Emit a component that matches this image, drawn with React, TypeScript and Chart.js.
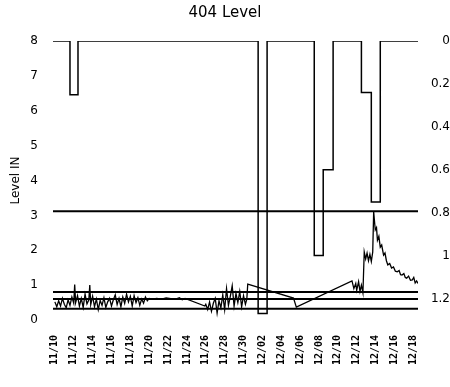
import React, { useEffect, useRef } from "react";
import { Chart, registerables } from "chart.js";

Chart.register(...registerables);

// X axis: days since 11/10
const tickDays = [0, 2, 4, 6, 8, 10, 12, 14, 16, 18, 20, 22, 24, 26, 28, 30, 32, 34, 36, 38];
const tickLabels = [
  "11/10", "11/12", "11/14", "11/16", "11/18", "11/20", "11/22", "11/24", "11/26", "11/28",
  "11/30", "12/02", "12/04", "12/06", "12/08", "12/10", "12/12", "12/14", "12/16", "12/18",
];
const xMin = -0.2;
const xMax = 38.5;

const leftTicks = [0, 1, 2, 3, 4, 5, 6, 7, 8];
const rightTicks = [0, 0.2, 0.4, 0.6, 0.8, 1, 1.2];

// Rainfall (right axis, reversed), step changes
const rainDays = [-0.2, 1.6, 2.45, 21.55, 22.5, 27.5, 28.45, 29.5, 32.5, 33.55, 34.5, 38.5];
const rainValues = [0, 0.25, 0, 1.27, 0, 1.0, 0.6, 0, 0.24, 0.75, 0, 0];

// Level (left axis)
const levelDays = [
  0.0, 0.2, 0.4, 0.6, 0.8, 1.0, 1.2, 1.4, 1.6, 1.8, 2.0, 2.1, 2.2, 2.4, 2.6, 2.8, 3.0, 3.2, 3.4, 3.6,
  3.7, 3.8, 4.0, 4.2, 4.4, 4.6, 4.8, 5.0, 5.2, 5.4, 5.6, 5.8, 6.0, 6.2, 6.4, 6.6, 6.8, 7.0, 7.2, 7.4,
  7.6, 7.8, 8.0, 8.2, 8.4, 8.6, 8.8, 9.0, 9.2, 9.4, 9.6, 9.8, 10.0,
  10.3, 10.8, 11.3, 11.8, 12.3, 12.8, 13.2, 13.5, 13.8, 15.9,
  16.0, 16.2, 16.4, 16.6, 16.8, 17.0, 17.2, 17.4, 17.6, 17.8, 18.0, 18.2, 18.4, 18.6, 18.8, 19.0,
  19.2, 19.4, 19.6, 19.8, 20.0, 20.2, 20.35, 20.45,
  25.3, 25.6, 31.5,
  31.7, 31.9, 32.0, 32.2, 32.35, 32.5, 32.66, 32.8, 32.95, 33.1, 33.25, 33.4, 33.55, 33.7, 33.8,
  33.97, 34.1, 34.2, 34.35, 34.5, 34.65, 34.85, 35.0, 35.15, 35.3, 35.5, 35.7, 35.9, 36.1, 36.3,
  36.5, 36.65, 36.8, 37.0, 37.15, 37.3, 37.5, 37.7, 37.9, 38.05, 38.2, 38.35, 38.5,
];
const levelValues = [
  0.52, 0.38, 0.55, 0.4, 0.62, 0.45, 0.35, 0.58, 0.42, 0.66, 0.48, 1.02, 0.5, 0.7, 0.4, 0.62, 0.36, 0.74, 0.46, 0.58,
  1.0, 0.44, 0.68, 0.38, 0.6, 0.3, 0.56, 0.42, 0.64, 0.36, 0.52, 0.62, 0.4, 0.58, 0.72, 0.44, 0.62, 0.38, 0.66, 0.48,
  0.74, 0.52, 0.68, 0.4, 0.7, 0.5, 0.64, 0.42, 0.6, 0.48, 0.66, 0.55, 0.62,
  0.6, 0.62, 0.6, 0.63, 0.61, 0.6, 0.64, 0.58, 0.62, 0.4,
  0.45, 0.3, 0.52, 0.25, 0.48, 0.62, 0.2, 0.55, 0.35, 0.72, 0.3, 0.9, 0.42, 0.68, 0.98, 0.4,
  0.76, 0.5, 0.82, 0.38, 0.7, 0.45, 0.6, 1.03,
  0.63, 0.37, 1.12,
  0.9, 1.05, 0.85, 1.1, 0.82, 1.0, 0.78, 1.95, 1.75, 1.92, 1.7, 1.88, 1.68, 1.95, 3.1,
  2.58, 2.65, 2.29, 2.4, 2.09, 2.15, 1.86, 1.92, 1.7, 1.58, 1.62, 1.49, 1.52, 1.4, 1.38,
  1.42, 1.3, 1.29, 1.33, 1.22, 1.2, 1.26, 1.14, 1.15, 1.22, 1.06, 1.12, 1.05,
];

// Horizontal reference levels (left axis)
const refLevels = [3.12, 0.8, 0.6, 0.32];

export default function App() {
  const canvasRef = useRef<HTMLCanvasElement | null>(null);

  useEffect(() => {
    const canvas = canvasRef.current;
    if (!canvas) return;
    const black = "#000000";
    const refSets = refLevels.map((v) => ({
      data: [
        { x: xMin, y: v },
        { x: xMax, y: v },
      ],
      yAxisID: "y",
      borderColor: black,
      borderWidth: 2,
      pointRadius: 0,
      fill: false,
    }));
    const chart = new Chart(canvas, {
      type: "line",
      data: {
        datasets: [
          {
            data: levelDays.map((d, i) => ({ x: d, y: levelValues[i] })),
            yAxisID: "y",
            borderColor: black,
            borderWidth: 1.3,
            pointRadius: 0,
            tension: 0,
            fill: false,
          },
          {
            data: rainDays.map((d, i) => ({ x: d, y: rainValues[i] })),
            yAxisID: "y1",
            borderColor: black,
            borderWidth: 1.5,
            pointRadius: 0,
            stepped: "before",
            fill: false,
          },
          ...refSets,
        ],
      },
      options: {
        responsive: false,
        animation: false,
        devicePixelRatio: 1,
        layout: { padding: 0 },
        plugins: {
          legend: { display: false },
          tooltip: { enabled: false },
          title: {
            display: true,
            text: "404 Level",
            color: black,
            font: { family: "'DejaVu Sans', sans-serif", size: 15, weight: "normal" },
            padding: { top: 4, bottom: 19 },
          },
        },
        scales: {
          x: {
            type: "linear",
            min: xMin,
            max: xMax,
            grid: { display: false, drawTicks: false },
            border: { display: false },
            afterBuildTicks: (s: any) => {
              s.ticks = tickDays.map((v) => ({ value: v }));
            },
            afterFit: (s: any) => {
              s.height = 67;
            },
            ticks: {
              autoSkip: false,
              minRotation: 90,
              maxRotation: 90,
              padding: 15,
              color: black,
              font: { family: "'DejaVu Sans Mono', monospace", size: 10, weight: "bold" },
              callback: (v: any) => {
                const i = tickDays.indexOf(Number(v));
                return i >= 0 ? tickLabels[i] : "";
              },
            },
          },
          y: {
            position: "left",
            min: 0,
            max: 8,
            grid: { display: false, drawTicks: false },
            border: { display: false },
            afterBuildTicks: (s: any) => {
              s.ticks = leftTicks.map((v) => ({ value: v }));
            },
            afterFit: (s: any) => {
              s.width = 53;
            },
            ticks: {
              padding: 15,
              color: black,
              font: { family: "'DejaVu Sans', sans-serif", size: 12 },
            },
            title: {
              display: true,
              text: "Level IN",
              color: black,
              font: { family: "'DejaVu Sans', sans-serif", size: 12 },
              padding: { top: 9, bottom: 0 },
            },
          },
          y1: {
            position: "right",
            reverse: true,
            min: 0,
            max: 1.3,
            grid: { display: false, drawTicks: false },
            border: { display: false },
            afterBuildTicks: (s: any) => {
              s.ticks = rightTicks.map((v) => ({ value: v }));
            },
            afterFit: (s: any) => {
              s.width = 32;
            },
            ticks: {
              padding: 5,
              crossAlign: "far",
              color: black,
              font: { family: "'DejaVu Sans', sans-serif", size: 12 },
              callback: (v: any) => String(Number(Number(v).toFixed(1))),
            },
          },
        },
      },
    } as any);
    return () => chart.destroy();
  }, []);

  return (
    <div style={{ position: "fixed", left: 0, top: 0, width: 450, height: 387, background: "#fff" }}>
      <canvas ref={canvasRef} width={450} height={387} style={{ display: "block" }} />
    </div>
  );
}
